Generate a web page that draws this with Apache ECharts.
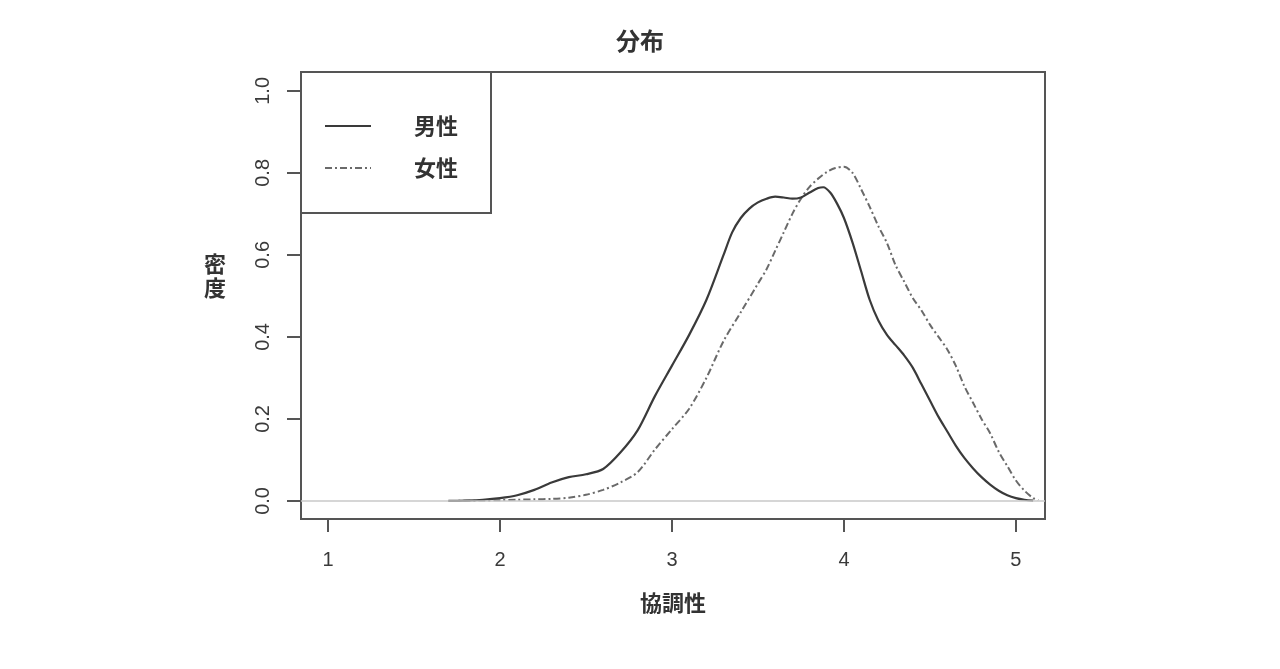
<!DOCTYPE html>
<html>
<head>
<meta charset="utf-8">
<script src="https://cdn.jsdelivr.net/npm/echarts@6/dist/echarts.min.js"></script>
<style>html,body{margin:0;padding:0;background:#fff}#c{width:1280px;height:669px}</style>
</head>
<body>
<div id="c"></div>
<script>
const titleText = '分布';
const xName = '協調性';
const yName = '密\n度';
const seriesNames = ['男性', '女性'];
const xTicks = [1, 2, 3, 4, 5];
const yTicks = [0, 0.2, 0.4, 0.6, 0.8, 1.0];

const maleX = [1.70,1.80,1.90,2.00,2.10,2.20,2.30,2.40,2.50,2.60,2.70,2.80,2.90,3.00,3.10,3.20,3.30,3.35,3.40,3.45,3.50,3.55,3.60,3.65,3.70,3.75,3.80,3.85,3.88,3.92,3.96,4.00,4.05,4.10,4.15,4.20,4.25,4.30,4.35,4.40,4.45,4.50,4.55,4.60,4.65,4.70,4.75,4.80,4.85,4.90,4.95,5.00,5.05,5.10];
const maleY = [0.000,0.001,0.003,0.007,0.014,0.027,0.045,0.058,0.065,0.078,0.118,0.172,0.255,0.330,0.405,0.490,0.600,0.655,0.690,0.713,0.728,0.737,0.742,0.740,0.737,0.740,0.752,0.763,0.765,0.752,0.725,0.690,0.630,0.560,0.490,0.440,0.405,0.380,0.355,0.325,0.285,0.245,0.205,0.170,0.135,0.105,0.080,0.058,0.040,0.025,0.014,0.007,0.003,0.001];

const femaleX = [1.70,1.90,2.00,2.10,2.20,2.30,2.40,2.50,2.60,2.70,2.80,2.90,3.00,3.10,3.20,3.30,3.40,3.50,3.55,3.60,3.65,3.70,3.75,3.80,3.85,3.90,3.95,4.00,4.05,4.10,4.15,4.20,4.25,4.30,4.35,4.40,4.45,4.50,4.55,4.60,4.65,4.70,4.75,4.80,4.85,4.90,4.95,5.00,5.05,5.10,5.13];
const femaleY = [0.000,0.001,0.002,0.003,0.004,0.005,0.008,0.015,0.027,0.045,0.070,0.125,0.175,0.225,0.300,0.390,0.460,0.530,0.565,0.610,0.655,0.700,0.737,0.766,0.786,0.802,0.812,0.815,0.800,0.760,0.717,0.670,0.629,0.575,0.535,0.495,0.465,0.430,0.400,0.370,0.330,0.280,0.240,0.200,0.165,0.120,0.085,0.050,0.025,0.007,0.002];

const zip = (xs, ys) => xs.map((x, i) => [x, ys[i]]);
const numFont = '"Liberation Sans", Arial, sans-serif';
const cjkFont = '"Noto Sans CJK JP", "Noto Sans", sans-serif';

const chart = echarts.init(document.getElementById('c'));
chart.setOption({
  animation: false,
  backgroundColor: '#fff',
  title: {
    text: titleText, left: 'center', top: 24,
    textStyle: { fontFamily: cjkFont, fontSize: 24, fontWeight: 'bold', color: '#333' }
  },
  legend: {
    data: seriesNames,
    orient: 'vertical',
    left: 319, top: 110,
    itemWidth: 46, itemHeight: 14, itemGap: 20,
    itemStyle: { color: 'rgba(0,0,0,0)', borderWidth: 0, opacity: 0 },
    textStyle: { fontFamily: cjkFont, fontSize: 22, fontWeight: 'bold', color: '#333', padding: [0, 0, 0, 38] }
  },
  graphic: [{
    type: 'rect', z: 100,
    shape: { x: 301, y: 72, width: 190, height: 141 },
    style: { fill: 'rgba(0,0,0,0)', stroke: '#555', lineWidth: 2 }
  }, {
    type: 'text', z: 100,
    left: 204, top: 252,
    style: { text: yName, fontFamily: cjkFont, fontSize: 22, fontWeight: 'bold', fill: '#333', lineHeight: 24, align: 'center' }
  }],
  grid: {
    left: 301, top: 72, width: 744, height: 447,
    show: true, borderColor: '#555', borderWidth: 2, backgroundColor: 'transparent'
  },
  xAxis: {
    type: 'value', min: 0.843, max: 5.169,
    name: xName, nameLocation: 'middle', nameGap: 73,
    nameTextStyle: { fontFamily: cjkFont, fontSize: 22, fontWeight: 'bold', color: '#333' },
    axisLine: { show: false, onZero: false },
    splitLine: { show: false },
    axisTick: { show: true, customValues: xTicks, length: 13, inside: false, lineStyle: { color: '#555', width: 2 } },
    axisLabel: { customValues: xTicks, margin: 31, fontFamily: numFont, fontSize: 20, color: '#3a3a3a', formatter: v => String(v) }
  },
  yAxis: {
    type: 'value', min: -0.044, max: 1.046,
    axisLine: { show: false, onZero: false },
    splitLine: { show: false },
    axisTick: { show: true, customValues: yTicks, length: 14, inside: false, lineStyle: { color: '#555', width: 2 } },
    axisLabel: { customValues: yTicks, rotate: 90, margin: 28, fontFamily: numFont, fontSize: 20, color: '#3a3a3a', formatter: v => v.toFixed(1) }
  },
  series: [{
    name: seriesNames[0], type: 'line', data: zip(maleX, maleY),
    showSymbol: false, symbol: 'none', smooth: 0.3,
    lineStyle: { color: '#3a3a3a', width: 2.2, type: 'solid' },
    itemStyle: { color: '#3a3a3a' },
    markLine: {
      silent: true, symbol: 'none', label: { show: false },
      lineStyle: { color: '#c8c8c8', width: 1.5, type: 'solid' },
      data: [{ yAxis: 0 }]
    },
    z: 3
  }, {
    name: seriesNames[1], type: 'line', data: zip(femaleX, femaleY),
    showSymbol: false, symbol: 'none', smooth: 0.3,
    lineStyle: { color: '#6a6a6a', width: 2, type: [7, 3, 2, 3] },
    itemStyle: { color: '#6a6a6a' },
    z: 2
  }]
});
</script>
</body>
</html>
